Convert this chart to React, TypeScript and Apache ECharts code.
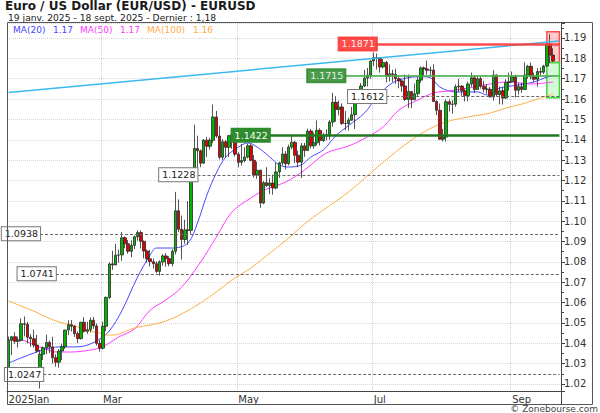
import React, { useEffect, useRef } from "react";
import * as echarts from "echarts";

// ---- Data (EUR/USD daily, 20 Jan 2025 - 18 Sep 2025) ----
const opens = [
  1.0272, 1.0415, 1.0432, 1.041, 1.0415,
  1.0496, 1.0493, 1.043, 1.0422, 1.0391,
  1.0241, 1.0346, 1.0378, 1.0404, 1.0382,
  1.0329, 1.0307, 1.0362, 1.0383, 1.0465,
  1.0491, 1.0484, 1.0447, 1.0423, 1.0503,
  1.0459, 1.0466, 1.0513, 1.0485, 1.04,
  1.0376, 1.0483, 1.0625, 1.079, 1.0785,
  1.0833, 1.0834, 1.0918, 1.0889, 1.0852,
  1.0881, 1.0923, 1.0944, 1.0901, 1.0853,
  1.0815, 1.0801, 1.0791, 1.0753, 1.08,
  1.0829, 1.0816, 1.0791, 1.0852, 1.1051,
  1.096, 1.091, 1.0957, 1.0955, 1.1198,
  1.1357, 1.1346, 1.1285, 1.1398, 1.1368,
  1.1397, 1.1512, 1.1418, 1.1314, 1.139,
  1.1363, 1.142, 1.1424, 1.1329, 1.1289,
  1.1298, 1.1315, 1.137, 1.1299, 1.1228,
  1.125, 1.1089, 1.1189, 1.1175, 1.1187,
  1.1163, 1.1242, 1.1286, 1.133, 1.1282,
  1.1364, 1.1387, 1.1324, 1.129, 1.137,
  1.1347, 1.1443, 1.137, 1.1385, 1.1446,
  1.1396, 1.142, 1.1425, 1.1487, 1.1584,
  1.1549, 1.1561, 1.148, 1.148, 1.1496,
  1.1523, 1.1578, 1.1609, 1.1664, 1.1703,
  1.1718, 1.1787, 1.1803, 1.18, 1.1758,
  1.178, 1.1711, 1.1724, 1.1721, 1.17,
  1.1689, 1.1664, 1.1598, 1.1637, 1.1597,
  1.1626, 1.1693, 1.1753, 1.1748, 1.1741,
  1.1742, 1.1588, 1.1545, 1.1403, 1.1413,
  1.1587, 1.1574, 1.1575, 1.166, 1.1664,
  1.1641, 1.1617, 1.1674, 1.1705, 1.1647,
  1.17, 1.1663, 1.1649, 1.1648, 1.161,
  1.1718, 1.1622, 1.1641, 1.1605, 1.1681,
  1.1685, 1.171, 1.1643, 1.1661, 1.1647,
  1.1718, 1.1761, 1.1709, 1.1697, 1.1735,
  1.1732, 1.1762, 1.1869, 1.1816,
];
const highs = [
  1.0433, 1.0436, 1.0454, 1.0432, 1.0522,
  1.0532, 1.0505, 1.0444, 1.0467, 1.0441,
  1.0367, 1.0384, 1.0442, 1.0414, 1.0432,
  1.0346, 1.0371, 1.0398, 1.0466, 1.0513,
  1.0514, 1.0489, 1.0459, 1.0505, 1.0528,
  1.0505, 1.0527, 1.0529, 1.0497, 1.0417,
  1.0506, 1.063, 1.0797, 1.0854, 1.0889,
  1.086, 1.0947, 1.0925, 1.0907, 1.0906,
  1.0929, 1.0955, 1.0955, 1.0905, 1.0861,
  1.0859, 1.0817, 1.0802, 1.0808, 1.0838,
  1.0843, 1.0828, 1.0863, 1.1144, 1.1107,
  1.1027, 1.1007, 1.1099, 1.1214, 1.1474,
  1.142, 1.1352, 1.1404, 1.1414, 1.141,
  1.1573, 1.1542, 1.1467, 1.1403, 1.1399,
  1.1424, 1.1426, 1.1426, 1.1339, 1.138,
  1.1363, 1.138, 1.1378, 1.1325, 1.1293,
  1.1253, 1.1197, 1.1265, 1.1211, 1.1229,
  1.1287, 1.1292, 1.1363, 1.1345, 1.1376,
  1.1419, 1.1395, 1.1346, 1.1384, 1.1385,
  1.1455, 1.1454, 1.1435, 1.1495, 1.1456,
  1.1434, 1.1451, 1.1496, 1.1631, 1.1614,
  1.1592, 1.1578, 1.1541, 1.1509, 1.1562,
  1.1588, 1.1641, 1.1678, 1.1744, 1.1753,
  1.179, 1.1829, 1.1824, 1.1807, 1.1797,
  1.1787, 1.177, 1.1744, 1.1749, 1.1712,
  1.1693, 1.172, 1.1721, 1.164, 1.1676,
  1.1708, 1.176, 1.176, 1.1789, 1.176,
  1.1771, 1.1594, 1.1578, 1.1453, 1.1599,
  1.1598, 1.1595, 1.1672, 1.1699, 1.1668,
  1.1652, 1.1686, 1.173, 1.1717, 1.1715,
  1.171, 1.1689, 1.1672, 1.1659, 1.1742,
  1.172, 1.1661, 1.1658, 1.1697, 1.173,
  1.1735, 1.172, 1.1678, 1.168, 1.178,
  1.1768, 1.178, 1.173, 1.1752, 1.1755,
  1.1768, 1.1878, 1.1919, 1.185,
];
const lows = [
  1.0265, 1.0342, 1.0398, 1.0379, 1.0409,
  1.0434, 1.04, 1.0382, 1.0378, 1.0354,
  1.0178, 1.0318, 1.0346, 1.0352, 1.03,
  1.0285, 1.028, 1.0317, 1.0372, 1.044,
  1.0457, 1.0431, 1.0401, 1.0418, 1.0453,
  1.0446, 1.0453, 1.0471, 1.0389, 1.0359,
  1.0369, 1.0459, 1.0617, 1.0761, 1.0783,
  1.0796, 1.0805, 1.0867, 1.084, 1.0822,
  1.0863, 1.0904, 1.0866, 1.0817, 1.0796,
  1.0778, 1.0767, 1.0745, 1.0733, 1.0781,
  1.0777, 1.0778, 1.0778, 1.0837, 1.0946,
  1.0811, 1.0889, 1.0884, 1.0938, 1.1192,
  1.1264, 1.1265, 1.1281, 1.1316, 1.1352,
  1.1383, 1.1409, 1.1303, 1.1301, 1.1313,
  1.1314, 1.1355, 1.1318, 1.1265, 1.1273,
  1.1289, 1.1308, 1.1294, 1.1214, 1.1208,
  1.1065, 1.1083, 1.1168, 1.1132, 1.113,
  1.1156, 1.1212, 1.1274, 1.1254, 1.1274,
  1.1352, 1.1286, 1.1265, 1.1211, 1.1316,
  1.1345, 1.1357, 1.1356, 1.1372, 1.1372,
  1.1389, 1.1398, 1.14, 1.1464, 1.1489,
  1.152, 1.1473, 1.1446, 1.1445, 1.1492,
  1.1453, 1.1575, 1.1589, 1.1659, 1.1662,
  1.1699, 1.1762, 1.1745, 1.173, 1.1751,
  1.1682, 1.1686, 1.1684, 1.1675, 1.1653,
  1.1636, 1.1591, 1.1556, 1.1556, 1.1594,
  1.1616, 1.168, 1.1711, 1.172, 1.1711,
  1.1585, 1.1521, 1.1401, 1.1392, 1.1391,
  1.1538, 1.1528, 1.1562, 1.1635, 1.1616,
  1.1588, 1.1589, 1.166, 1.163, 1.1646,
  1.1651, 1.1633, 1.1626, 1.1609, 1.1592,
  1.1613, 1.1574, 1.1573, 1.1601, 1.1641,
  1.1681, 1.1608, 1.1622, 1.163, 1.1645,
  1.17, 1.1696, 1.1685, 1.1661, 1.1718,
  1.1723, 1.1759, 1.1777, 1.1782,
];
const closes = [
  1.0415, 1.0432, 1.041, 1.0415, 1.0496,
  1.0493, 1.043, 1.0422, 1.0391, 1.0362,
  1.0346, 1.0378, 1.0404, 1.0382, 1.0329,
  1.0307, 1.0362, 1.0383, 1.0465, 1.0491,
  1.0484, 1.0447, 1.0423, 1.0503, 1.0459,
  1.0466, 1.0513, 1.0485, 1.04, 1.0376,
  1.0483, 1.0625, 1.079, 1.0785, 1.0833,
  1.0834, 1.0918, 1.0889, 1.0852, 1.0881,
  1.0923, 1.0944, 1.0901, 1.0853, 1.0815,
  1.0801, 1.0791, 1.0753, 1.08, 1.0829,
  1.0816, 1.0791, 1.0852, 1.1051, 1.096,
  1.091, 1.0957, 1.0955, 1.1198, 1.1357,
  1.1346, 1.1285, 1.1398, 1.1368, 1.1397,
  1.1512, 1.1418, 1.1314, 1.139, 1.1363,
  1.142, 1.1424, 1.1329, 1.1289, 1.1298,
  1.1315, 1.137, 1.1299, 1.1228, 1.125,
  1.1089, 1.1189, 1.1175, 1.1187, 1.1163,
  1.1242, 1.1286, 1.133, 1.1282, 1.1364,
  1.1387, 1.1324, 1.129, 1.137, 1.1347,
  1.1443, 1.137, 1.1385, 1.1446, 1.1396,
  1.142, 1.1425, 1.1487, 1.1584, 1.1549,
  1.1561, 1.148, 1.148, 1.1496, 1.1523,
  1.1578, 1.1609, 1.1664, 1.1703, 1.1718,
  1.1787, 1.1803, 1.18, 1.1758, 1.178,
  1.1711, 1.1724, 1.1721, 1.17, 1.1689,
  1.1664, 1.1598, 1.1637, 1.1597, 1.1626,
  1.1693, 1.1753, 1.1748, 1.1741, 1.1742,
  1.1588, 1.1545, 1.1403, 1.1413, 1.1587,
  1.1574, 1.1575, 1.166, 1.1664, 1.1641,
  1.1617, 1.1674, 1.1705, 1.1647, 1.17,
  1.1663, 1.1649, 1.1648, 1.161, 1.1718,
  1.1622, 1.1641, 1.1605, 1.1681, 1.1685,
  1.171, 1.1643, 1.1661, 1.1647, 1.1718,
  1.1761, 1.1709, 1.1697, 1.1735, 1.1732,
  1.1762, 1.1869, 1.1816, 1.1787,
];

// Moving averages: [bar index, value]
const ma20 = [
  [0, 1.0303], [4, 1.0328], [8, 1.0352], [12, 1.0372], [16, 1.0382], [21, 1.0382],
  [25, 1.0391], [29, 1.0421], [32, 1.046], [36, 1.056], [41, 1.0726], [45, 1.0834],
  [47, 1.0868], [52, 1.0868], [57, 1.0893], [60, 1.0991], [63, 1.1128], [66, 1.1237],
  [69, 1.1315], [73, 1.1364], [76, 1.1384], [79, 1.1364], [83, 1.1315], [86, 1.1276],
  [89, 1.1266], [93, 1.1276], [96, 1.1315], [100, 1.135], [104, 1.142], [108, 1.147],
  [113, 1.153], [117, 1.161], [122, 1.168], [127, 1.1705], [131, 1.171], [134, 1.1705],
  [137, 1.1659], [142, 1.1635], [149, 1.1635], [152, 1.162], [156, 1.1654], [162, 1.1669],
  [167, 1.1684], [171, 1.1708], [173, 1.1712],
];
const ma50 = [
  [0, 1.0416], [4, 1.0416], [8, 1.0391], [11, 1.0377], [15, 1.0357], [20, 1.0357],
  [24, 1.0362], [29, 1.0377], [32, 1.0401], [35, 1.0431], [40, 1.047], [45, 1.0563],
  [50, 1.0613], [55, 1.0676], [61, 1.0799], [66, 1.0922], [71, 1.1045], [77, 1.1114],
  [82, 1.1158], [88, 1.1192], [94, 1.1251], [101, 1.1335], [108, 1.1369], [114, 1.1414],
  [119, 1.1463], [124, 1.1546], [130, 1.1595], [135, 1.163], [140, 1.164], [146, 1.1654],
  [153, 1.1674], [159, 1.1684], [166, 1.1674], [173, 1.1684],
];
const ma100 = [
  [0, 1.0608], [4, 1.0583], [8, 1.0558], [12, 1.0529], [16, 1.0504], [20, 1.049],
  [23, 1.0475], [26, 1.046], [29, 1.045], [32, 1.044], [35, 1.0445], [40, 1.0475],
  [45, 1.049], [50, 1.0509], [55, 1.0544], [61, 1.0598], [66, 1.0652], [71, 1.0711],
  [77, 1.077], [83, 1.0843], [89, 1.0917], [94, 1.0986], [100, 1.1055], [108, 1.1143],
  [118, 1.1276], [128, 1.1399], [135, 1.1463], [140, 1.1492], [146, 1.1512], [153, 1.1531],
  [158, 1.1556], [163, 1.1575], [169, 1.1605], [173, 1.1625],
];
const maNames = ["MA(20)", "MA(50)", "MA(100)"];
const maLast = ["1.17", "1.17", "1.16"];

// Trend line (two end points) and horizontal levels
const trendStart = [0, 1.1632];
const trendEnd = [175, 1.1885];
const levelValues = [1.1871, 1.1715, 1.1612, 1.1422, 1.1228, 1.0938, 1.0741, 1.0247];
const levelStarts = [117, 107, 120, 83, 60, 10, 15, 11];
const levelKinds = ["red", "green", "dash", "dgreen", "dash", "dash", "dash", "dash"];
// Right-edge zones [top, bottom]
const resistanceZone = [1.1931, 1.1779];
const supportZone = [1.1779, 1.1606];
const zoneStart = 171;
const lastIndex = 175;

const monthLabelText: Record<string, string> = {
  "2025-01": "2025Jan",
  "2025-03": "Mar",
  "2025-05": "May",
  "2025-07": "Jul",
  "2025-09": "Sep",
};

function buildDates(): string[] {
  const out: string[] = [];
  const d = new Date(Date.UTC(2025, 0, 20));
  const end = Date.UTC(2025, 8, 18);
  while (d.getTime() <= end) {
    const wd = d.getUTCDay();
    if (wd !== 0 && wd !== 6) out.push(d.toISOString().slice(0, 10));
    d.setUTCDate(d.getUTCDate() + 1);
  }
  return out;
}

const FONT = '"DejaVu Sans", Verdana, sans-serif';

export default function App() {
  const ref = useRef<HTMLDivElement>(null);
  useEffect(() => {
    if (!ref.current) return;
    const chart = echarts.init(ref.current, undefined, { renderer: "svg" });
    const dates = buildDates();
    const cats = [...dates, "", ""];
    const labelIdx = new Map<number, string>();
    const seen = new Set<string>();
    dates.forEach((d, i) => {
      const k = d.slice(0, 7);
      if (!seen.has(k)) {
        seen.add(k);
        if (monthLabelText[k]) labelIdx.set(i, monthLabelText[k]);
      }
    });

    const candles = dates.map((_, i) => [opens[i], closes[i], lows[i], highs[i]]);

    const kindStyle: Record<string, any> = {
      red: { line: { color: "#ff3a3a", width: 2.5, type: "solid", opacity: 0.9 }, bg: "#ff3a3a", fg: "#fff", bd: "#ff3a3a" },
      green: { line: { color: "#4caf50", width: 2, type: "solid", opacity: 0.85 }, bg: "#2e8b2e", fg: "#fff", bd: "#2e8b2e" },
      dgreen: { line: { color: "#1f7a1f", width: 2.5, type: "solid" }, bg: "#2e8b2e", fg: "#fff", bd: "#2e8b2e" },
      dash: { line: { color: "#666", width: 1, type: [3, 2] }, bg: "#fff", fg: "#222", bd: "#777" },
    };

    const levelLines = levelValues.map((v, k) => {
      const s = kindStyle[levelKinds[k]];
      return [
        {
          coord: [levelStarts[k], v],
          lineStyle: s.line,
          label: {
            show: true,
            position: "start",
            distance: 0,
            formatter: v.toFixed(4),
            backgroundColor: s.bg,
            borderColor: s.bd,
            borderWidth: 1,
            color: s.fg,
            fontFamily: FONT,
            fontSize: 9.5,
            padding: [2, 2, 1, 3],
          },
        },
        { coord: [lastIndex, v] },
      ];
    });

    const trend = [
      { coord: trendStart, lineStyle: { color: "#3cb8f0", width: 1.5, type: "solid" }, label: { show: false } },
      { coord: trendEnd },
    ];

    const maColors = ["#4848ff", "#ff3cff", "#ffad4a"];
    const maData = [ma20, ma50, ma100];

    const yMin = 1.01654;
    const yMax = 1.19737;

    chart.setOption({
      animation: false,
      grid: { left: 7, right: 39, top: 23, bottom: 22 },
      xAxis: {
        type: "category",
        data: cats,
        boundaryGap: true,
        axisLine: { show: true, lineStyle: { color: "#444" } },
        axisTick: { show: false },
        axisLabel: {
          interval: (i: number) => labelIdx.has(i),
          formatter: (_v: string, i: number) => labelIdx.get(i) ?? "",
          align: "left",
          margin: 3,
          color: "#333",
          fontFamily: FONT,
          fontSize: 10,
        },
        splitLine: {
          show: true,
          interval: (i: number) => labelIdx.has(i) && i > 0,
          lineStyle: { color: "#cfcfcf", type: "dotted" },
        },
      },
      yAxis: {
        type: "value",
        position: "right",
        min: yMin,
        max: yMax,
        splitNumber: 18,
        axisLine: { show: true, lineStyle: { color: "#444" } },
        axisTick: { show: true, length: 4, lineStyle: { color: "#444" } },
        minorTick: { show: true, splitNumber: 2, length: 3, lineStyle: { color: "#444" } },
        axisLabel: {
          color: "#333",
          fontFamily: FONT,
          fontSize: 10,
          margin: 3,
          showMinLabel: false,
          showMaxLabel: false,
          formatter: (v: number) => v.toFixed(2),
        },
        splitLine: { show: true, lineStyle: { color: "#d6d6d6", type: "dotted" } },
      },
      series: [
        ...maData.map((d, k) => ({
          type: "line",
          data: d,
          showSymbol: false,
          smooth: 0.35,
          lineStyle: { color: maColors[k], width: 1 },
          silent: true,
          z: 2,
        })),
        {
          type: "candlestick",
          data: candles,
          barWidth: 3,
          z: 3,
          itemStyle: {
            color: "#00b400",
            color0: "#e00000",
            borderColor: "#2a2a2a",
            borderColor0: "#2a2a2a",
            borderWidth: 0.8,
          },
          markArea: {
            silent: true,
            data: [
              [
                { coord: [zoneStart, resistanceZone[0]], itemStyle: { color: "rgba(255,110,110,0.35)", borderColor: "#ff4d4d", borderWidth: 1.5 } },
                { coord: [lastIndex, resistanceZone[1]] },
              ],
              [
                { coord: [zoneStart, supportZone[0]], itemStyle: { color: "rgba(120,240,120,0.3)", borderColor: "#3bd83b", borderWidth: 1.5 } },
                { coord: [lastIndex, supportZone[1]] },
              ],
            ],
          },
          markLine: {
            silent: true,
            symbol: ["none", "none"],
            data: [trend, ...levelLines],
          },
        },
      ],
      graphic: [
        { type: "rect", shape: { x: 7.5, y: 22.5, width: 585, height: 382 }, style: { fill: "none", stroke: "#555", lineWidth: 1 }, silent: true, z: 10 },
        { type: "line", shape: { x1: 561.5, y1: 391, x2: 561.5, y2: 405 }, style: { stroke: "#444", lineWidth: 1 }, silent: true },
        { type: "text", x: 5, y: 6.2, style: { text: "Euro / US Dollar (EUR/USD) - EURUSD", font: `bold 12px ${FONT}`, fill: "#1a1a1a", textVerticalAlign: "middle" } },
        { type: "text", x: 8, y: 17.6, style: { text: "19 janv. 2025 - 18 sept. 2025 - Dernier : 1,18", font: `9.2px ${FONT}`, fill: "#222", textVerticalAlign: "middle" } },
        { type: "text", x: 13, y: 30, style: { text: maNames[0], font: `9px ${FONT}`, fill: maColors[0], textVerticalAlign: "middle" } },
        { type: "text", x: 53, y: 30, style: { text: maLast[0], font: `9px ${FONT}`, fill: maColors[0], textVerticalAlign: "middle" } },
        { type: "text", x: 80, y: 30, style: { text: maNames[1], font: `9px ${FONT}`, fill: maColors[1], textVerticalAlign: "middle" } },
        { type: "text", x: 120, y: 30, style: { text: maLast[1], font: `9px ${FONT}`, fill: maColors[1], textVerticalAlign: "middle" } },
        { type: "text", x: 147, y: 30, style: { text: maNames[2], font: `9px ${FONT}`, fill: maColors[2], textVerticalAlign: "middle" } },
        { type: "text", x: 193, y: 30, style: { text: maLast[2], font: `9px ${FONT}`, fill: maColors[2], textVerticalAlign: "middle" } },
        { type: "text", x: 598, y: 408.5, style: { text: "© Zonebourse.com", font: `9px ${FONT}`, fill: "#444", textAlign: "right", textVerticalAlign: "middle" } },
      ],
    });
    return () => chart.dispose();
  }, []);
  return <div ref={ref} style={{ width: 600, height: 413, position: "absolute", left: 0, top: 0 }} />;
}
